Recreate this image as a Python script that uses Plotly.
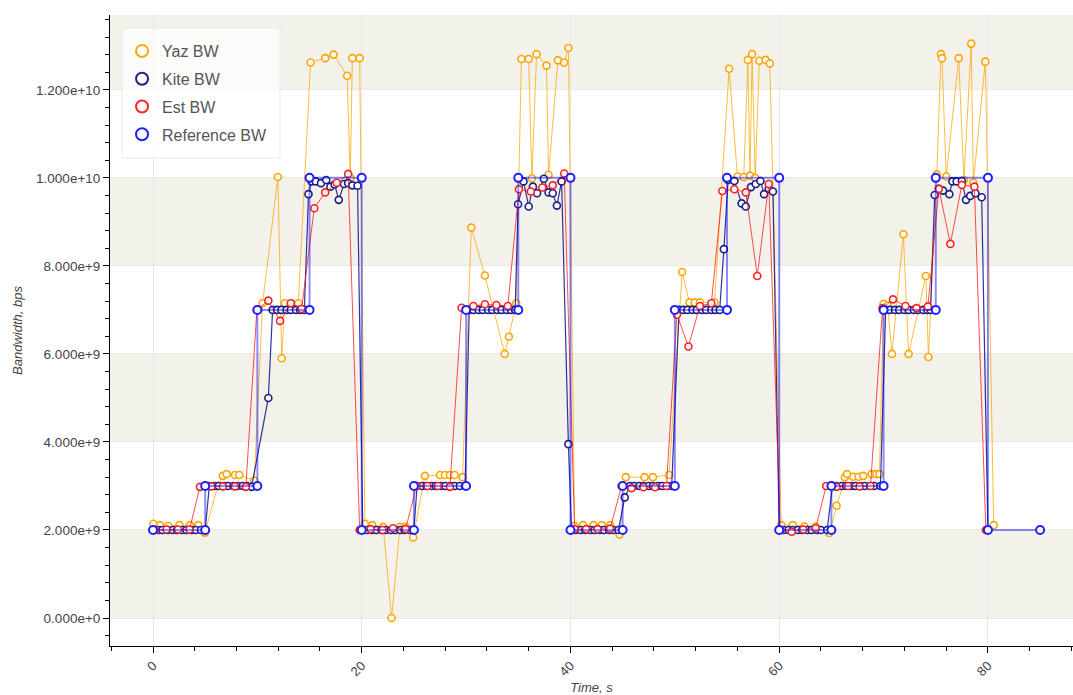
import numpy as np
import plotly.graph_objects as go

G = 1e9

# ---------------- data (bandwidth in Gbps, time in s) ----------------
ref_t = [0, 5, 5, 10, 10, 15, 15, 20, 20, 25, 25, 30, 30, 35, 35, 40,
         40, 45, 45, 50, 50, 55, 55, 60, 60, 65, 65, 70, 70, 75, 75, 80, 80, 85]
ref_gbps = [2, 2, 3, 3, 7, 7, 10, 10, 2, 2, 3, 3, 7, 7, 10, 10,
            2, 2, 3, 3, 7, 7, 10, 10, 2, 2, 3, 3, 7, 7, 10, 10, 2, 2]

yaz_t = [0.03, 0.67, 1.47, 2.52, 3.54, 4.34, 4.98, 6.2, 6.68, 7.06, 7.85, 8.27, 9.7,
         10.5, 11.97, 12.33, 12.64, 13.3, 13.92, 15.1, 16.5, 17.3, 18.6, 18.9, 19.1, 19.8,
         20.3, 21.0, 22.06, 22.86, 23.66, 24.2, 24.93, 26.05, 27.5, 27.97, 28.45, 28.9, 29.66,
         30.5, 31.8, 33.7, 34.1, 34.8, 35.3, 36.0, 36.3, 36.75, 37.7, 37.9, 38.8, 39.4, 39.8,
         40.4, 41.2, 42.2, 43.0, 43.8, 44.7, 45.3, 47.1, 47.9, 49.45,
         50.7, 51.4, 51.9, 52.4, 53.8, 55.2, 56.0, 56.6, 57.0, 57.2, 57.4, 57.7, 58.1, 58.7, 59.1,
         60.2, 61.3, 62.4, 63.5, 64.8, 65.5, 66.3, 66.5, 67.1, 67.6, 68.05, 68.85, 69.3, 69.6,
         70.0, 70.4, 70.8, 71.9, 72.4, 74.05, 74.3, 75.1, 75.5, 75.6, 76.0, 77.2, 77.7, 78.4,
         78.6, 79.75, 80.55]
yaz_gbps = [2.14, 2.11, 2.09, 2.11, 2.11, 2.11, 1.94, 3.0, 3.23, 3.27, 3.25, 3.25, 3.12,
            7.15, 10.02, 5.90, 7.15, 7.15, 7.15, 12.62, 12.72, 12.8, 12.32, 10.0, 12.72, 12.72,
            2.14, 2.11, 2.07, 0.0, 2.07, 2.07, 1.83, 3.23, 3.25, 3.25, 3.25, 3.25, 3.2,
            8.87, 7.78, 6.0, 6.39, 7.15, 12.7, 12.7, 9.99, 12.81, 12.55, 10.07, 12.67, 12.62, 12.95,
            2.09, 2.11, 2.11, 2.11, 2.11, 1.90, 3.2, 3.2, 3.2, 3.25,
            7.86, 7.17, 7.17, 7.17, 7.17, 12.48, 10.03, 10.02, 12.68, 10.05, 12.81, 10.0, 12.66, 12.68, 12.6,
            2.11, 2.11, 2.08, 2.08, 1.93, 2.55, 3.2, 3.27, 3.21, 3.21, 3.23, 3.27, 3.27, 3.27,
            7.14, 7.1, 6.0, 8.72, 6.0, 7.77, 5.93, 10.08, 12.81, 12.72, 10.03, 12.72, 9.95, 13.05,
            9.89, 12.64, 2.11]

kite_t = [0.0, 0.5, 0.9, 1.4, 1.9, 2.3, 2.8, 3.2, 3.7, 4.1, 4.6, 5.0,
          5.4, 5.9, 6.3, 6.8, 7.2, 7.7, 8.1, 8.6, 9.0, 9.45,
          11.05, 11.46, 11.9, 12.3, 12.8, 13.2, 13.7, 14.1, 14.5,
          14.9, 15.2, 15.6, 16.1, 16.6, 17.0, 17.4, 17.8, 18.3, 18.7, 19.1, 19.6,
          20.1, 20.5, 21.0, 21.4, 21.9, 22.3, 22.8, 23.2, 23.7, 24.1, 24.6, 25.0,
          25.3, 25.8, 26.2, 26.7, 27.1, 27.6, 28.0, 28.5, 28.9, 29.4, 29.9,
          30.3, 30.7, 31.2, 31.6, 32.1, 32.5, 33.0, 33.4, 33.9, 34.3, 34.7,
          34.98, 35.5, 36.0, 36.4, 36.8, 37.45, 37.9, 38.3, 38.7, 39.15, 39.8,
          40.1, 40.5, 41.0, 41.4, 41.9, 42.3, 42.8, 43.2, 43.7, 44.1, 44.6, 45.2,
          45.7, 46.1, 46.6, 47.0, 47.5, 47.9, 48.4, 48.8, 49.3, 49.7,
          50.4, 50.8, 51.2, 51.7, 52.1, 52.6, 53.0, 53.5, 53.9, 54.3, 54.7,
          55.1, 55.7, 56.4, 56.8, 57.3, 57.75, 58.2, 58.55, 59.0, 59.4,
          60.0, 60.4, 60.9, 61.3, 61.8, 62.2, 62.7, 63.1, 63.6, 64.0, 64.6,
          65.1, 65.5, 66.0, 66.4, 66.9, 67.3, 67.8, 68.2, 68.7, 69.1, 69.7,
          70.2, 70.6, 71.1, 71.5, 72.0, 72.4, 72.9, 73.3, 73.8, 74.2, 74.5,
          74.9, 75.3, 75.7, 76.3, 76.6, 77.0, 77.5, 77.9, 78.3, 78.8, 79.4, 80.0]
kite_gbps = [2.0, 2.0, 2.0, 2.0, 2.0, 2.0, 2.0, 2.0, 2.0, 2.0, 2.0, 2.0,
             3.0, 3.0, 3.0, 3.0, 3.0, 3.0, 3.0, 3.0, 3.0, 2.98,
             5.0, 7.0, 7.0, 7.0, 7.0, 7.0, 7.0, 7.0, 7.0,
             9.63, 9.92, 9.92, 9.88, 9.95, 9.80, 9.85, 9.50, 9.86, 9.88, 9.83, 9.82,
             2.0, 2.0, 2.0, 2.0, 2.0, 2.0, 2.0, 2.0, 2.0, 2.0, 2.0, 2.0,
             3.0, 3.0, 3.0, 3.0, 3.0, 3.0, 3.0, 3.0, 3.0, 3.0, 3.0,
             7.0, 7.0, 7.0, 7.0, 7.0, 7.0, 7.0, 7.0, 7.0, 7.0, 7.0,
             9.40, 9.92, 9.35, 9.80, 9.65, 9.98, 9.67, 9.65, 9.37, 9.92, 3.95,
             2.0, 2.0, 2.0, 2.0, 2.0, 2.0, 2.0, 2.0, 2.0, 2.0, 2.0, 2.74,
             3.0, 3.0, 3.0, 3.0, 3.0, 3.0, 3.0, 3.0, 3.0, 3.0,
             7.0, 7.0, 7.0, 7.0, 7.0, 7.0, 7.0, 7.0, 7.0, 7.0, 8.38,
             9.95, 9.93, 9.42, 9.35, 9.79, 9.86, 9.93, 9.63, 9.75, 9.69,
             2.0, 2.0, 2.0, 2.0, 2.0, 2.0, 2.0, 2.0, 2.0, 2.0, 2.0,
             3.0, 3.0, 3.0, 3.0, 3.0, 3.0, 3.0, 3.0, 3.0, 3.0, 3.0,
             7.0, 7.0, 7.0, 7.0, 7.0, 7.0, 7.0, 7.0, 7.0, 7.0, 7.0,
             9.61, 9.75, 9.71, 9.63, 9.92, 9.92, 9.93, 9.50, 9.59, 9.65, 9.56, 2.0]

est_t = [0.2, 1.3, 2.4, 3.5, 4.5, 5.6, 6.7, 7.85, 8.9, 9.95, 11.05, 12.17, 13.2, 14.24,
         15.45, 16.5, 17.6, 18.7, 19.8, 20.85, 22.0, 23.0, 24.2, 25.25, 26.3, 27.3, 28.45,
         29.57, 30.7, 31.8, 32.9, 34.0, 35.06, 36.2, 37.3, 38.3, 39.4, 40.4, 41.5, 42.6,
         43.8, 44.9, 45.85, 47.0, 48.1, 49.2, 50.2, 51.3, 52.4, 53.5, 54.55, 55.7, 56.8,
         57.9, 59.0, 60.1, 61.2, 62.3, 63.5, 64.5, 65.5, 66.6, 67.7, 68.75, 69.9, 70.9,
         72.1, 73.15, 74.25, 75.3, 76.4, 77.5, 78.7, 79.8]
est_gbps = [2.0, 2.01, 2.01, 2.01, 2.98, 2.99, 2.99, 2.99, 2.98, 7.0, 7.21, 6.75, 7.15, 7.02,
            9.31, 9.67, 9.89, 10.09, 2.0, 2.02, 2.0, 2.04, 2.02, 3.0, 3.0, 3.0, 2.98,
            7.05, 7.09, 7.13, 7.11, 7.09, 9.74, 9.69, 9.78, 9.83, 10.1, 2.02, 2.02, 2.02,
            2.03, 3.0, 2.95, 2.97, 2.97, 3.0, 6.89, 6.17, 7.09, 7.15, 9.7, 9.74, 9.67,
            7.77, 9.86, 2.0, 1.96, 2.01, 2.04, 3.0, 2.98, 3.0, 2.99, 3.0, 7.04, 7.24,
            7.09, 7.04, 7.08, 9.75, 8.5, 9.84, 9.8, 2.0]

y_tick_vals = [0, 2e9, 4e9, 6e9, 8e9, 1e10, 1.2e10]
y_tick_text = ["0.000e+0", "2.000e+9", "4.000e+9", "6.000e+9", "8.000e+9", "1.000e+10", "1.200e+10"]
x_tick_vals = [0, 20, 40, 60, 80]
x_tick_text = ["0", "20", "40", "60", "80"]

series = [
    ("Yaz BW", yaz_t, yaz_gbps, "#FFA500", "rgba(255,165,0,0.75)", 1, 7, 1.6),
    ("Kite BW", kite_t, kite_gbps, "#1a1f86", "rgba(0,0,128,0.8)", 1.2, 7, 1.6),
    ("Est BW", est_t, est_gbps, "#ff2020", "rgba(255,0,0,0.7)", 1, 7, 1.6),
    ("Reference BW", ref_t, ref_gbps, "#2020ff", "rgba(0,0,255,0.45)", 2, 8, 2),
]

FONT = "Liberation Sans, Arial, Helvetica, sans-serif"
fig = go.Figure()
for i, (name, t, v, mcol, lcol, lw, ms, mlw) in enumerate(series):
    yv = np.array(v) * G
    fig.add_trace(go.Scatter(x=t, y=yv, mode="lines", line=dict(color=lcol, width=lw),
                             showlegend=False, hoverinfo="skip", legendgroup=name))
    fig.add_trace(go.Scatter(x=t, y=yv, mode="markers", name=name, legendgroup=name,
                             marker=dict(symbol="circle", size=ms, color="white",
                                         line=dict(color=mcol, width=mlw))))

# alternate y-grid bands (Bokeh style)
band_edges = y_tick_vals + [1.4e10]
for k in range(0, len(band_edges) - 1, 2):
    fig.add_shape(type="rect", xref="paper", yref="y", x0=0, x1=1,
                  y0=band_edges[k], y1=band_edges[k + 1],
                  fillcolor="#f2f1ea", line=dict(width=0), layer="below")

# legend frame (Bokeh-like box)
fig.add_shape(type="rect", xref="paper", yref="paper",
              x0=12 / 963, x1=170 / 963, y0=1 - 143 / 631, y1=1 - 13 / 631,
              fillcolor="rgba(255,255,255,0.7)", line=dict(color="#e8e8e8", width=1),
              layer="above")

fig.update_layout(
    width=1073, height=695,
    margin=dict(l=110, r=0, t=15, b=49),
    paper_bgcolor="white", plot_bgcolor="white",
    font=dict(family=FONT, color="#444444"),
    legend=dict(x=0.0125, y=1 - 19 / 631, xanchor="left", yanchor="top",
                bgcolor="rgba(0,0,0,0)", borderwidth=0,
                font=dict(size=16, color="#555555"), tracegroupgap=4,
                itemsizing="constant"),
    xaxis=dict(range=[-4.12, 88.15], tickvals=x_tick_vals, ticktext=x_tick_text,
               tickangle=-45, ticks="outside", ticklen=6, tickcolor="black",
               showline=True, linecolor="black", linewidth=1,
               showgrid=True, gridcolor="#e6e6e6", gridwidth=1, zeroline=False,
               tickfont=dict(size=13, color="#444444"),
               minor=dict(dtick=4, tick0=0, ticks="outside", ticklen=4, tickcolor="black",
                          showgrid=False),
               title=dict(text="<i>Time, s</i>", font=dict(size=13, color="#444444"), standoff=6)),
    yaxis=dict(range=[-0.636e9, 13.70e9], tickvals=y_tick_vals, ticktext=y_tick_text,
               ticks="outside", ticklen=6, tickcolor="black",
               showline=True, linecolor="black", linewidth=1,
               showgrid=True, gridcolor="#e9e9e9", gridwidth=1, zeroline=False,
               tickfont=dict(size=13.5, color="#444444"),
               minor=dict(dtick=0.4e9, tick0=0, ticks="outside", ticklen=4, tickcolor="black",
                          showgrid=False),
               title=dict(text="<i>Bandwidth, bps</i>", font=dict(size=13, color="#444444"), standoff=10)),
)

fig.write_html("out.html", post_script="document.body.style.margin='0';",
               config={"displayModeBar": False})
